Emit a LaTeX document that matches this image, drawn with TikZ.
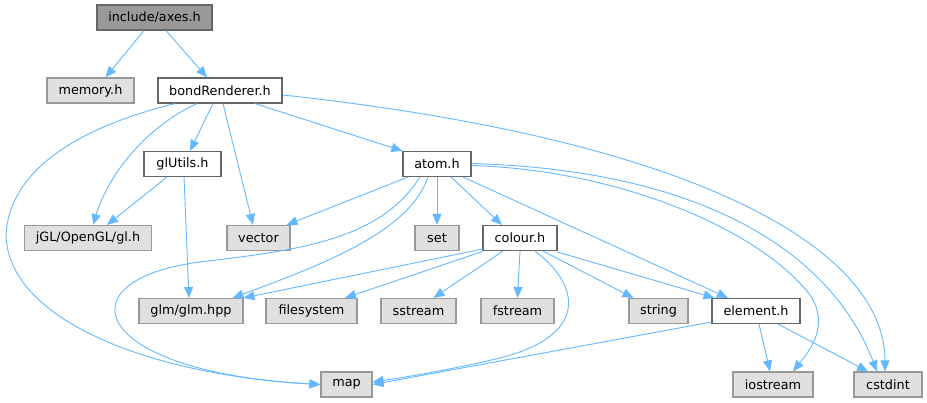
\documentclass[tikz,border=0pt]{standalone}
\usepackage{fontspec}
\setmainfont{DejaVu Sans}
\usetikzlibrary{arrows.meta}
\definecolor{edgec}{HTML}{63B8FF}
\definecolor{extfill}{HTML}{E0E0E0}
\definecolor{extdraw}{HTML}{999999}
\definecolor{intdraw}{HTML}{666666}
\definecolor{rootfill}{HTML}{999999}
\tikzset{
  basebox/.style={rectangle, inner sep=0pt, minimum height=25pt, line width=1.1pt, font=\fontsize{12.8}{14}\selectfont, text=black},
  extbox/.style={basebox, fill=extfill, draw=extdraw},
  intbox/.style={basebox, fill=white, draw=intdraw},
  rootbox/.style={basebox, fill=rootfill, draw=intdraw},
  dep/.style={draw=edgec, line width=0.9pt, -{Triangle[length=11pt,width=9pt,fill=edgec]}},
}
\begin{document}
\begin{tikzpicture}[x=1pt,y=-1pt]
\useasboundingbox (0,0) rectangle (927,403);
% nodes
\node[rootbox, minimum width=115pt] (axes) at (154.5,17.5) {include/axes.h};
\node[extbox, minimum width=87pt] (memory) at (90.5,90.5) {memory.h};
\node[intbox, minimum width=124pt] (bond) at (220,90.5) {bondRenderer.h};
\node[intbox, minimum width=77pt] (glutils) at (182.5,164) {glUtils.h};
\node[intbox, minimum width=68pt] (atom) at (437,164) {atom.h};
\node[extbox, minimum width=127pt] (jgl) at (88,238) {jGL/OpenGL/gl.h};
\node[extbox, minimum width=63pt] (vector) at (258.5,238) {vector};
\node[extbox, minimum width=44pt] (set) at (437,238) {set};
\node[intbox, minimum width=74pt] (colour) at (520,238) {colour.h};
\node[extbox, minimum width=104pt] (glm) at (191,311) {glm/glm.hpp};
\node[extbox, minimum width=91pt] (filesystem) at (311.5,311) {filesystem};
\node[extbox, minimum width=75pt] (sstream) at (418.5,311) {sstream};
\node[extbox, minimum width=73pt] (fstream) at (517.5,311) {fstream};
\node[extbox, minimum width=59pt] (string) at (658.5,311) {string};
\node[intbox, minimum width=88pt] (element) at (756,311) {element.h};
\node[extbox, minimum width=51pt] (map) at (346.5,384.5) {map};
\node[extbox, minimum width=80pt] (iostream) at (773,384.5) {iostream};
\node[extbox, minimum width=68pt] (cstdint) at (888,384.5) {cstdint};
% edges from axes
\draw[dep] ([xshift=-10.5pt]axes.south) -- ([xshift=15pt]memory.north);
\draw[dep] ([xshift=11.5pt]axes.south) -- ([xshift=-13pt]bond.north);
% edges from bondRenderer
\draw[dep] ([xshift=-45pt]bond.south) .. controls (100,122) and (10,160) .. (6,235)
  .. controls (8,320) and (150,375) .. (map.west);
\draw[dep] ([xshift=-23pt]bond.south) .. controls (150,125) and (110,170) .. ([xshift=5pt]jgl.north);
\draw[dep] ([xshift=-7pt]bond.south) -- ([xshift=7.5pt]glutils.north);
\draw[dep] ([xshift=3pt]bond.south) -- ([xshift=-5.5pt]vector.north);
\draw[dep] ([xshift=35pt]bond.south) -- (atom.north west);
\draw[dep] ([yshift=-4.5pt]bond.east) .. controls (700,140) and (885,250) .. ([xshift=-3pt]cstdint.north);
% edges from glUtils
\draw[dep] ([xshift=-15.5pt]glutils.south) -- ([xshift=19pt]jgl.north);
\draw[dep] ([xshift=1.5pt]glutils.south) -- ([xshift=-2pt]glm.north);
% edges from atom
\draw[dep] ([xshift=-29pt]atom.south) -- ([xshift=-4pt]vector.north east);
\draw[dep] (atom.south) -- (set.north);
\draw[dep] ([xshift=14pt]atom.south) -- ([xshift=-18pt]colour.north);
\draw[dep] ([xshift=-9pt]atom.south) .. controls (410,230) and (330,262) .. ([xshift=-11pt]glm.north east);
\draw[dep] ([xshift=-17pt]atom.south) .. controls (380,240) and (300,250) .. (200,262)
  .. controls (60,280) and (90,372) .. (map.west);
\draw[dep] ([xshift=26pt]atom.south) -- ([xshift=-28pt]element.north);
\draw[dep] ([yshift=-1.5pt]atom.east) .. controls (620,170) and (760,230) .. (810,295)
  .. controls (830,325) and (810,350) .. ([xshift=20pt]iostream.north);
\draw[dep] ([yshift=0.5pt]atom.east) .. controls (700,170) and (830,250) .. ([xshift=-11pt]cstdint.north);
% edges from colour
\draw[dep] ([yshift=2pt]colour.south west) -- (glm.north east);
\draw[dep] ([yshift=-0.5pt]colour.south west) -- ([xshift=33.5pt]filesystem.north);
\draw[dep] ([xshift=-17pt]colour.south) -- ([xshift=15pt]sstream.north);
\draw[dep] (colour.south) -- (fstream.north);
\draw[dep] ([xshift=15pt]colour.south) .. controls (580,285) and (590,335) .. (500,358)
  .. controls (450,370) and (400,378) .. ([yshift=2.5pt]map.east);
\draw[dep] ([xshift=23pt]colour.south) -- ([xshift=-25pt]string.north);
\draw[dep] ([yshift=-1pt]colour.south east) -- ([xshift=3pt]element.north west);
% edges from element
\draw[dep] ([yshift=2pt]element.south west) -- (map.east);
\draw[dep] ([xshift=3pt]element.south) -- ([xshift=-3pt]iostream.north);
\draw[dep] ([xshift=22pt]element.south) -- ([xshift=-20pt]cstdint.north);
\end{tikzpicture}
\end{document}
